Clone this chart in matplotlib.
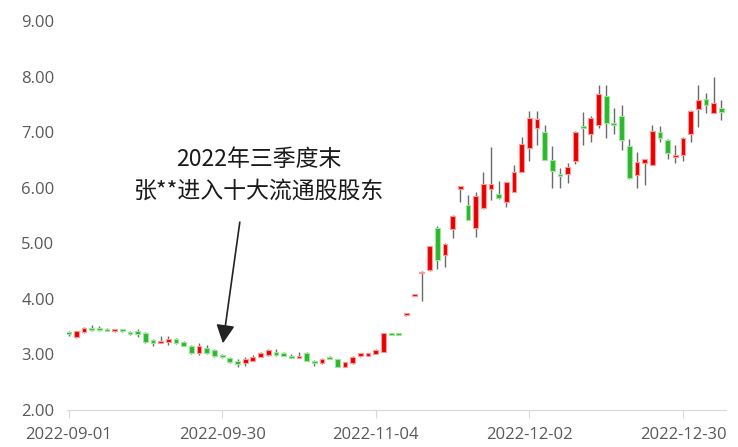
import matplotlib
matplotlib.use('Agg')
from matplotlib import pyplot as plt

plt.rcParams['font.family'] = ['Open Sans', 'Noto Sans CJK SC', 'DejaVu Sans']

# daily prices, 2022-09-01 .. 2023-01
opens = [3.40, 3.31, 3.40, 3.47, 3.47, 3.46, 3.42, 3.44, 3.40, 3.42,
         3.39, 3.26, 3.21, 3.22, 3.27, 3.23, 3.15, 3.03, 3.11, 3.08,
         2.99, 2.94, 2.89, 2.84, 2.89, 2.96, 2.99, 3.05, 3.02, 2.98,
         2.94, 3.02, 2.88, 2.84, 2.95, 2.91, 2.78, 2.84, 2.98, 2.98,
         3.01, 3.05, 3.38, 3.38, 3.71, 4.06, 4.46, 4.52, 5.28, 4.79,
         5.25, 5.98, 5.69, 5.27, 5.63, 5.97, 5.88, 5.75, 5.93, 6.29,
         6.72, 7.08, 7.01, 6.50, 6.24, 6.24, 6.48, 7.11, 6.96, 7.13,
         7.65, 7.16, 7.29, 6.75, 6.23, 6.45, 6.41, 7.01, 6.86, 6.55,
         6.58, 6.96, 7.41, 7.59, 7.35, 7.43]
highs = [3.43, 3.43, 3.49, 3.53, 3.51, 3.48, 3.46, 3.46, 3.43, 3.46,
         3.41, 3.28, 3.33, 3.33, 3.29, 3.25, 3.17, 3.20, 3.17, 3.10,
         3.01, 2.96, 2.91, 2.96, 2.99, 3.04, 3.10, 3.10, 3.04, 3.00,
         3.05, 3.04, 2.90, 2.93, 2.97, 2.92, 2.87, 2.97, 3.03, 3.03,
         3.09, 3.39, 3.39, 3.39, 3.73, 4.09, 4.50, 4.96, 5.31, 5.00,
         5.50, 6.03, 5.87, 5.93, 6.29, 6.74, 6.12, 6.10, 6.41, 6.92,
         7.38, 7.38, 7.13, 6.75, 6.35, 6.45, 7.02, 7.36, 7.29, 7.85,
         7.85, 7.43, 7.49, 6.87, 6.65, 6.51, 7.13, 7.11, 6.87, 6.77,
         6.91, 7.39, 7.85, 7.71, 7.99, 7.58]
lows = [3.34, 3.30, 3.39, 3.43, 3.43, 3.42, 3.41, 3.41, 3.35, 3.32,
        3.21, 3.16, 3.20, 3.17, 3.19, 3.15, 3.01, 2.99, 3.01, 2.96,
        2.94, 2.85, 2.77, 2.79, 2.88, 2.95, 2.98, 2.98, 2.97, 2.93,
        2.93, 2.88, 2.79, 2.83, 2.91, 2.77, 2.77, 2.83, 2.95, 2.97,
        3.00, 3.04, 3.35, 3.35, 3.70, 4.06, 3.97, 4.51, 4.54, 4.58,
        5.09, 5.75, 5.42, 5.12, 5.62, 5.78, 5.79, 5.66, 5.92, 6.28,
        6.48, 6.77, 6.49, 6.00, 6.00, 6.08, 6.42, 6.77, 6.83, 7.08,
        6.90, 6.96, 6.68, 6.16, 6.00, 6.05, 6.40, 6.83, 6.51, 6.45,
        6.48, 6.83, 7.10, 7.35, 7.34, 7.22]
closes = [3.36, 3.42, 3.47, 3.44, 3.44, 3.43, 3.45, 3.42, 3.36, 3.36,
          3.23, 3.20, 3.24, 3.28, 3.20, 3.16, 3.02, 3.15, 3.02, 2.97,
          2.95, 2.86, 2.83, 2.92, 2.96, 3.02, 3.08, 2.99, 2.98, 2.94,
          2.98, 2.89, 2.84, 2.92, 2.92, 2.78, 2.86, 2.96, 3.02, 3.02,
          3.08, 3.38, 3.35, 3.35, 3.73, 4.09, 4.49, 4.95, 4.70, 4.99,
          5.49, 6.03, 5.42, 5.85, 6.06, 6.06, 5.81, 6.10, 6.29, 6.78,
          7.26, 7.23, 6.50, 6.30, 6.21, 6.37, 7.01, 7.07, 7.25, 7.68,
          7.17, 7.12, 6.86, 6.17, 6.47, 6.51, 7.02, 6.89, 6.63, 6.58,
          6.90, 7.38, 7.58, 7.49, 7.52, 7.37]

tick_pos = [0, 20, 40, 60, 80]
tick_labels = ['2022-09-01', '2022-09-30', '2022-11-04', '2022-12-02', '2022-12-30']
note = '2022年三季度末\n张**进入十大流通股股东'

fig = plt.figure(figsize=(7.38, 4.47), dpi=100)
ax = fig.add_axes([67 / 738, 1 - 410 / 447, 659 / 738, 389 / 447])

idx = list(range(len(opens)))
ax.vlines(idx, lows, highs, color='#6a6a6a', linewidth=1.0, zorder=1)

up = [c >= o for o, c in zip(opens, closes)]
bottoms = [min(o, c) for o, c in zip(opens, closes)]
heights = [max(abs(c - o), 0.03) for o, c in zip(opens, closes)]
faces = ['#e60000' if u else '#2fb52f' for u in up]
edges = ['#ff9a9a' if u else '#9be89b' for u in up]
ax.bar(idx, heights, bottom=bottoms, width=0.62, color=faces,
       edgecolor=edges, linewidth=0.8, zorder=2)

ax.annotate('', xy=(20.1, 3.20), xytext=(22.3, 5.38),
            arrowprops=dict(arrowstyle='-|>', color='#222222', lw=1.2,
                            mutation_scale=28, shrinkA=0, shrinkB=0))
ax.text(24.8, 6.22, note, ha='center', va='center', fontsize=16.5,
        color='#1a1a1a', linespacing=1.45,
        family=['Noto Sans CJK SC', 'DejaVu Sans'])

ax.set_xlim(-0.2, 85.6)
ax.set_ylim(2, 9)
ax.set_yticks([2, 3, 4, 5, 6, 7, 8, 9])
ax.set_yticklabels(['%.2f' % v for v in [2, 3, 4, 5, 6, 7, 8, 9]])
ax.set_xticks(tick_pos)
ax.set_xticklabels(tick_labels)

for s in ['left', 'top', 'right']:
    ax.spines[s].set_visible(False)
ax.spines['bottom'].set_color('#d9d9d9')
ax.tick_params(axis='y', length=0, pad=9, labelsize=12, labelcolor='#595959')
ax.tick_params(axis='x', length=6, color='#d9d9d9', pad=6, labelsize=12,
               labelcolor='#595959')

fig.savefig('out.png', dpi=100)
